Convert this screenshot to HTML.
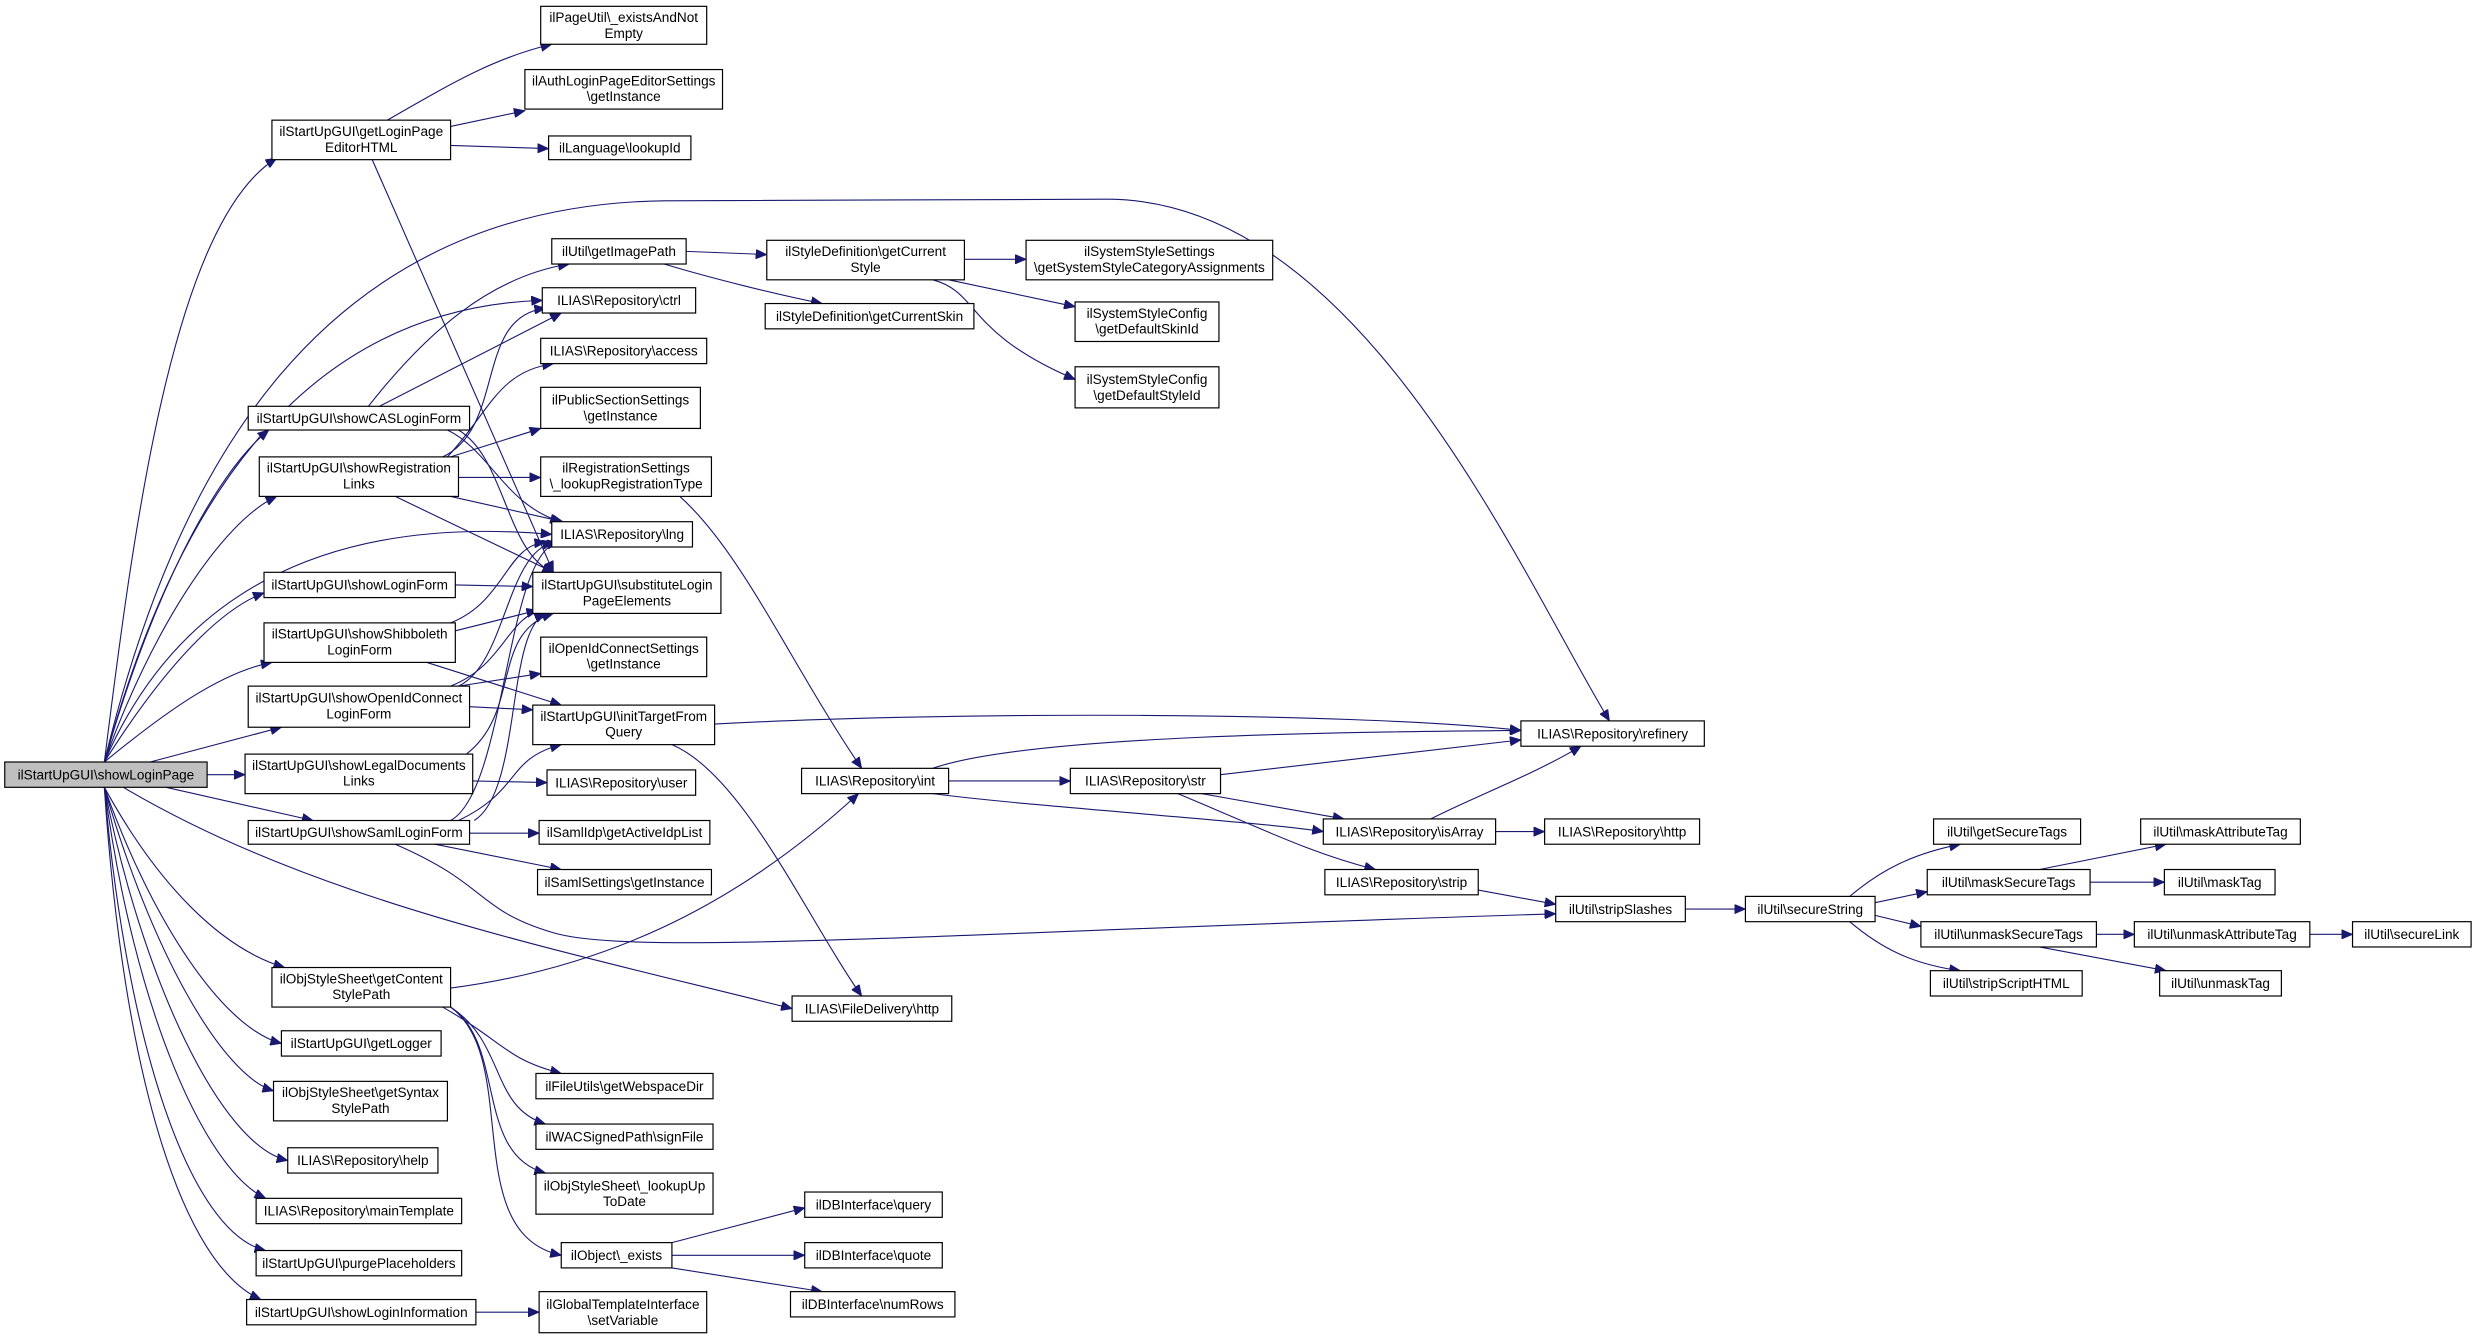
<!DOCTYPE html>
<html><head><meta charset="utf-8"><style>
html,body{margin:0;padding:0;background:#fff;}
svg{display:block;}
text{font-family:"Liberation Sans",Arial,sans-serif;font-size:8.6px;fill:#000;text-anchor:middle;}
.n{fill:#fff;stroke:#000;stroke-width:0.75;}
.e{fill:none;stroke:#191970;stroke-width:0.7;}
</style></head><body>
<svg width="2479" height="1340" viewBox="0 0 1568 847.6" preserveAspectRatio="none" xmlns="http://www.w3.org/2000/svg">
<defs><marker id="a" markerUnits="userSpaceOnUse" markerWidth="8" markerHeight="6" refX="7" refY="3" orient="auto"><path d="M0,0 L7,3 L0,6 z" fill="#191970" stroke="#191970" stroke-width="0.5"/></marker></defs>
<g class="e" marker-end="url(#a)">
<path d="M66,482 C85,330 110,140 175,100"/>
<path d="M66,482 C110,300 200,130 420,127 L700,126 C860,126 960,360 1018,456"/>
<path d="M66,482 C110,320 190,195 343,190"/>
<path d="M66,482 C95,380 135,300 170,272"/>
<path d="M66,482 C95,400 140,330 175,314"/>
<path d="M66,482 C110,380 200,325 349,338"/>
<path d="M66,482 C105,420 140,385 167,375"/>
<path d="M66,482 C105,450 140,425 172,419"/>
<path d="M95,482 L178,460"/>
<path d="M131,490 L155,490"/>
<path d="M105,498 L198,519"/>
<path d="M78,498 C200,570 350,600 501,638"/>
<path d="M66,498 C100,560 140,600 180,612"/>
<path d="M66,498 C95,580 140,650 178,660"/>
<path d="M66,498 C95,600 140,680 173,690"/>
<path d="M66,498 C90,620 140,725 182,734"/>
<path d="M66,498 C85,640 130,740 168,758"/>
<path d="M66,498 C80,660 120,780 168,791"/>
<path d="M66,498 C78,680 115,800 165,822"/>
<path d="M245,76 C290,50 315,36 349,28"/>
<path d="M285,80 L332,70"/>
<path d="M285,92 L347,94"/>
<path d="M235,100 L350,362"/>
<path d="M434,159 L485,161"/>
<path d="M420,167 C450,176 490,186 520,192"/>
<path d="M610,164 L649,164"/>
<path d="M600,177 L680,194"/>
<path d="M590,177 C620,185 610,210 680,240"/>
<path d="M233,257 C270,210 310,175 360,167"/>
<path d="M240,257 L355,198"/>
<path d="M283,272 C310,285 320,320 355,330"/>
<path d="M290,272 C320,290 320,350 350,362"/>
<path d="M280,289 C320,270 300,200 345,195"/>
<path d="M283,289 C310,260 315,235 350,230"/>
<path d="M285,289 L342,271"/>
<path d="M290,302 L342,302"/>
<path d="M285,314 L356,330"/>
<path d="M250,314 L350,362"/>
<path d="M430,314 C470,350 500,420 545,486"/>
<path d="M288,370 L337,371"/>
<path d="M285,394 C320,380 320,345 345,343"/>
<path d="M288,399 L340,386"/>
<path d="M270,419 L355,446"/>
<path d="M290,434 C320,420 320,350 350,343"/>
<path d="M285,434 C320,420 320,390 345,385"/>
<path d="M290,434 L342,426"/>
<path d="M297,447 L337,449"/>
<path d="M295,477 C330,450 310,400 350,388"/>
<path d="M299,494 L346,495"/>
<path d="M285,519 C320,500 320,350 353,343"/>
<path d="M300,519 C330,500 320,400 345,388"/>
<path d="M290,519 C330,500 320,480 355,471"/>
<path d="M297,527 L341,527"/>
<path d="M275,534 L355,550"/>
<path d="M250,534 C310,560 300,575 350,590 C400,605 600,590 984,578"/>
<path d="M452,458 C600,450 850,450 962,462"/>
<path d="M425,471 C470,490 510,580 545,630"/>
<path d="M285,625 C400,610 480,560 543,502"/>
<path d="M280,637 C320,660 320,670 355,679"/>
<path d="M285,637 C320,660 310,700 345,711"/>
<path d="M285,637 C320,660 300,730 345,742"/>
<path d="M285,637 C330,670 290,780 355,794"/>
<path d="M600,494 L677,494"/>
<path d="M590,486 C650,465 850,463 962,462"/>
<path d="M590,502 C650,510 800,520 837,526"/>
<path d="M772,490 L962,468"/>
<path d="M760,502 L850,518"/>
<path d="M745,502 C800,525 830,540 870,550"/>
<path d="M905,518 C930,505 970,490 1000,472"/>
<path d="M946,526 L977,526"/>
<path d="M935,563 L984,572"/>
<path d="M1066,575 L1104,575"/>
<path d="M1170,567 C1190,550 1210,540 1240,534"/>
<path d="M1186,571 L1219,564"/>
<path d="M1186,579 L1215,586"/>
<path d="M1170,583 C1190,600 1210,610 1240,614"/>
<path d="M1290,550 L1370,534"/>
<path d="M1322,558 L1369,558"/>
<path d="M1326,591 L1350,591"/>
<path d="M1290,599 L1370,614"/>
<path d="M1461,591 L1488,591"/>
<path d="M425,786 L509,764"/>
<path d="M425,794 L509,794"/>
<path d="M425,802 L520,817"/>
<path d="M301,830 L341,830"/>
</g>
<g>
<rect x="3" y="482" width="128" height="16" fill="#bfbfbf" stroke="#000" stroke-width="0.75"/><text x="67" y="493">ilStartUpGUI\showLoginPage</text>
<rect class="n" x="172" y="76" width="113" height="25"/><text x="228.5" y="86">ilStartUpGUI\getLoginPage</text><text x="228.5" y="96">EditorHTML</text>
<rect class="n" x="342" y="4" width="105" height="24"/><text x="394.5" y="14">ilPageUtil\_existsAndNot</text><text x="394.5" y="24">Empty</text>
<rect class="n" x="332" y="44" width="125" height="25"/><text x="394.5" y="54">ilAuthLoginPageEditorSettings</text><text x="394.5" y="64">\getInstance</text>
<rect class="n" x="347" y="86" width="90" height="15"/><text x="392" y="96.5">ilLanguage\lookupId</text>
<rect class="n" x="349" y="151" width="85" height="16"/><text x="391.5" y="162">ilUtil\getImagePath</text>
<rect class="n" x="343" y="182" width="97" height="16"/><text x="391.5" y="193">ILIAS\Repository\ctrl</text>
<rect class="n" x="342" y="214" width="105" height="16"/><text x="394.5" y="225">ILIAS\Repository\access</text>
<rect class="n" x="342" y="245" width="101" height="26"/><text x="392.5" y="256">ilPublicSectionSettings</text><text x="392.5" y="266">\getInstance</text>
<rect class="n" x="157" y="257" width="140" height="15"/><text x="227" y="267.5">ilStartUpGUI\showCASLoginForm</text>
<rect class="n" x="164" y="289" width="126" height="25"/><text x="227" y="299">ilStartUpGUI\showRegistration</text><text x="227" y="309">Links</text>
<rect class="n" x="342" y="289" width="108" height="25"/><text x="396" y="299">ilRegistrationSettings</text><text x="396" y="309">\_lookupRegistrationType</text>
<rect class="n" x="349" y="330" width="89" height="16"/><text x="393.5" y="341">ILIAS\Repository\lng</text>
<rect class="n" x="167" y="362" width="121" height="16"/><text x="227.5" y="373">ilStartUpGUI\showLoginForm</text>
<rect class="n" x="337" y="362" width="119" height="26"/><text x="396.5" y="373">ilStartUpGUI\substituteLogin</text><text x="396.5" y="383">PageElements</text>
<rect class="n" x="167" y="394" width="121" height="25"/><text x="227.5" y="404">ilStartUpGUI\showShibboleth</text><text x="227.5" y="414">LoginForm</text>
<rect class="n" x="342" y="403" width="105" height="25"/><text x="394.5" y="413">ilOpenIdConnectSettings</text><text x="394.5" y="423">\getInstance</text>
<rect class="n" x="157" y="434" width="140" height="26"/><text x="227" y="444.5">ilStartUpGUI\showOpenIdConnect</text><text x="227" y="454.5">LoginForm</text>
<rect class="n" x="337" y="446" width="115" height="25"/><text x="394.5" y="456">ilStartUpGUI\initTargetFrom</text><text x="394.5" y="466">Query</text>
<rect class="n" x="155" y="477" width="144" height="25"/><text x="227" y="487">ilStartUpGUI\showLegalDocuments</text><text x="227" y="497">Links</text>
<rect class="n" x="346" y="487" width="94" height="16"/><text x="393" y="498">ILIAS\Repository\user</text>
<rect class="n" x="157" y="519" width="140" height="15"/><text x="227" y="529.5">ilStartUpGUI\showSamlLoginForm</text>
<rect class="n" x="341" y="519" width="108" height="15"/><text x="395" y="529.5">ilSamlIdp\getActiveIdpList</text>
<rect class="n" x="340" y="550" width="110" height="16"/><text x="395" y="561">ilSamlSettings\getInstance</text>
<rect class="n" x="172" y="612" width="113" height="25"/><text x="228.5" y="622">ilObjStyleSheet\getContent</text><text x="228.5" y="632">StylePath</text>
<rect class="n" x="178" y="652" width="101" height="16"/><text x="228.5" y="663">ilStartUpGUI\getLogger</text>
<rect class="n" x="173" y="684" width="110" height="25"/><text x="228" y="694">ilObjStyleSheet\getSyntax</text><text x="228" y="704">StylePath</text>
<rect class="n" x="182" y="726" width="95" height="16"/><text x="229.5" y="737">ILIAS\Repository\help</text>
<rect class="n" x="162" y="758" width="130" height="16"/><text x="227" y="769">ILIAS\Repository\mainTemplate</text>
<rect class="n" x="162" y="791" width="130" height="16"/><text x="227" y="802">ilStartUpGUI\purgePlaceholders</text>
<rect class="n" x="156" y="822" width="145" height="16"/><text x="228.5" y="833">ilStartUpGUI\showLoginInformation</text>
<rect class="n" x="339" y="679" width="112" height="16"/><text x="395" y="690">ilFileUtils\getWebspaceDir</text>
<rect class="n" x="339" y="711" width="112" height="16"/><text x="395" y="722">ilWACSignedPath\signFile</text>
<rect class="n" x="339" y="742" width="112" height="26"/><text x="395" y="753">ilObjStyleSheet\_lookupUp</text><text x="395" y="763">ToDate</text>
<rect class="n" x="355" y="786" width="70" height="16"/><text x="390" y="797">ilObject\_exists</text>
<rect class="n" x="341" y="817" width="106" height="26"/><text x="394" y="828">ilGlobalTemplateInterface</text><text x="394" y="838">\setVariable</text>
<rect class="n" x="509" y="754" width="87" height="16"/><text x="552.5" y="765">ilDBInterface\query</text>
<rect class="n" x="509" y="786" width="87" height="16"/><text x="552.5" y="797">ilDBInterface\quote</text>
<rect class="n" x="500" y="817" width="104" height="16"/><text x="552" y="828">ilDBInterface\numRows</text>
<rect class="n" x="485" y="152" width="125" height="25"/><text x="547.5" y="162">ilStyleDefinition\getCurrent</text><text x="547.5" y="172">Style</text>
<rect class="n" x="484" y="192" width="132" height="16"/><text x="550" y="203">ilStyleDefinition\getCurrentSkin</text>
<rect class="n" x="649" y="152" width="156" height="25"/><text x="727" y="162">ilSystemStyleSettings</text><text x="727" y="172">\getSystemStyleCategoryAssignments</text>
<rect class="n" x="680" y="191" width="91" height="25"/><text x="725.5" y="201">ilSystemStyleConfig</text><text x="725.5" y="211">\getDefaultSkinId</text>
<rect class="n" x="680" y="232" width="91" height="26"/><text x="725.5" y="243">ilSystemStyleConfig</text><text x="725.5" y="253">\getDefaultStyleId</text>
<rect class="n" x="962" y="456" width="116" height="16"/><text x="1020" y="467">ILIAS\Repository\refinery</text>
<rect class="n" x="507" y="486" width="93" height="16"/><text x="553.5" y="497">ILIAS\Repository\int</text>
<rect class="n" x="677" y="486" width="95" height="16"/><text x="724.5" y="497">ILIAS\Repository\str</text>
<rect class="n" x="837" y="518" width="109" height="16"/><text x="891.5" y="529">ILIAS\Repository\isArray</text>
<rect class="n" x="977" y="518" width="98" height="16"/><text x="1026" y="529">ILIAS\Repository\http</text>
<rect class="n" x="838" y="550" width="97" height="16"/><text x="886.5" y="561">ILIAS\Repository\strip</text>
<rect class="n" x="501" y="630" width="101" height="16"/><text x="551.5" y="641">ILIAS\FileDelivery\http</text>
<rect class="n" x="984" y="567" width="82" height="16"/><text x="1025" y="578">ilUtil\stripSlashes</text>
<rect class="n" x="1104" y="567" width="82" height="16"/><text x="1145" y="578">ilUtil\secureString</text>
<rect class="n" x="1223" y="518" width="93" height="16"/><text x="1269.5" y="529">ilUtil\getSecureTags</text>
<rect class="n" x="1219" y="550" width="103" height="16"/><text x="1270.5" y="561">ilUtil\maskSecureTags</text>
<rect class="n" x="1215" y="583" width="111" height="16"/><text x="1270.5" y="594">ilUtil\unmaskSecureTags</text>
<rect class="n" x="1221" y="614" width="96" height="16"/><text x="1269" y="625">ilUtil\stripScriptHTML</text>
<rect class="n" x="1354" y="518" width="101" height="16"/><text x="1404.5" y="529">ilUtil\maskAttributeTag</text>
<rect class="n" x="1369" y="550" width="70" height="16"/><text x="1404" y="561">ilUtil\maskTag</text>
<rect class="n" x="1350" y="583" width="111" height="16"/><text x="1405.5" y="594">ilUtil\unmaskAttributeTag</text>
<rect class="n" x="1366" y="614" width="77" height="16"/><text x="1404.5" y="625">ilUtil\unmaskTag</text>
<rect class="n" x="1488" y="583" width="75" height="16"/><text x="1525.5" y="594">ilUtil\secureLink</text>
</g>
</svg>
</body></html>
